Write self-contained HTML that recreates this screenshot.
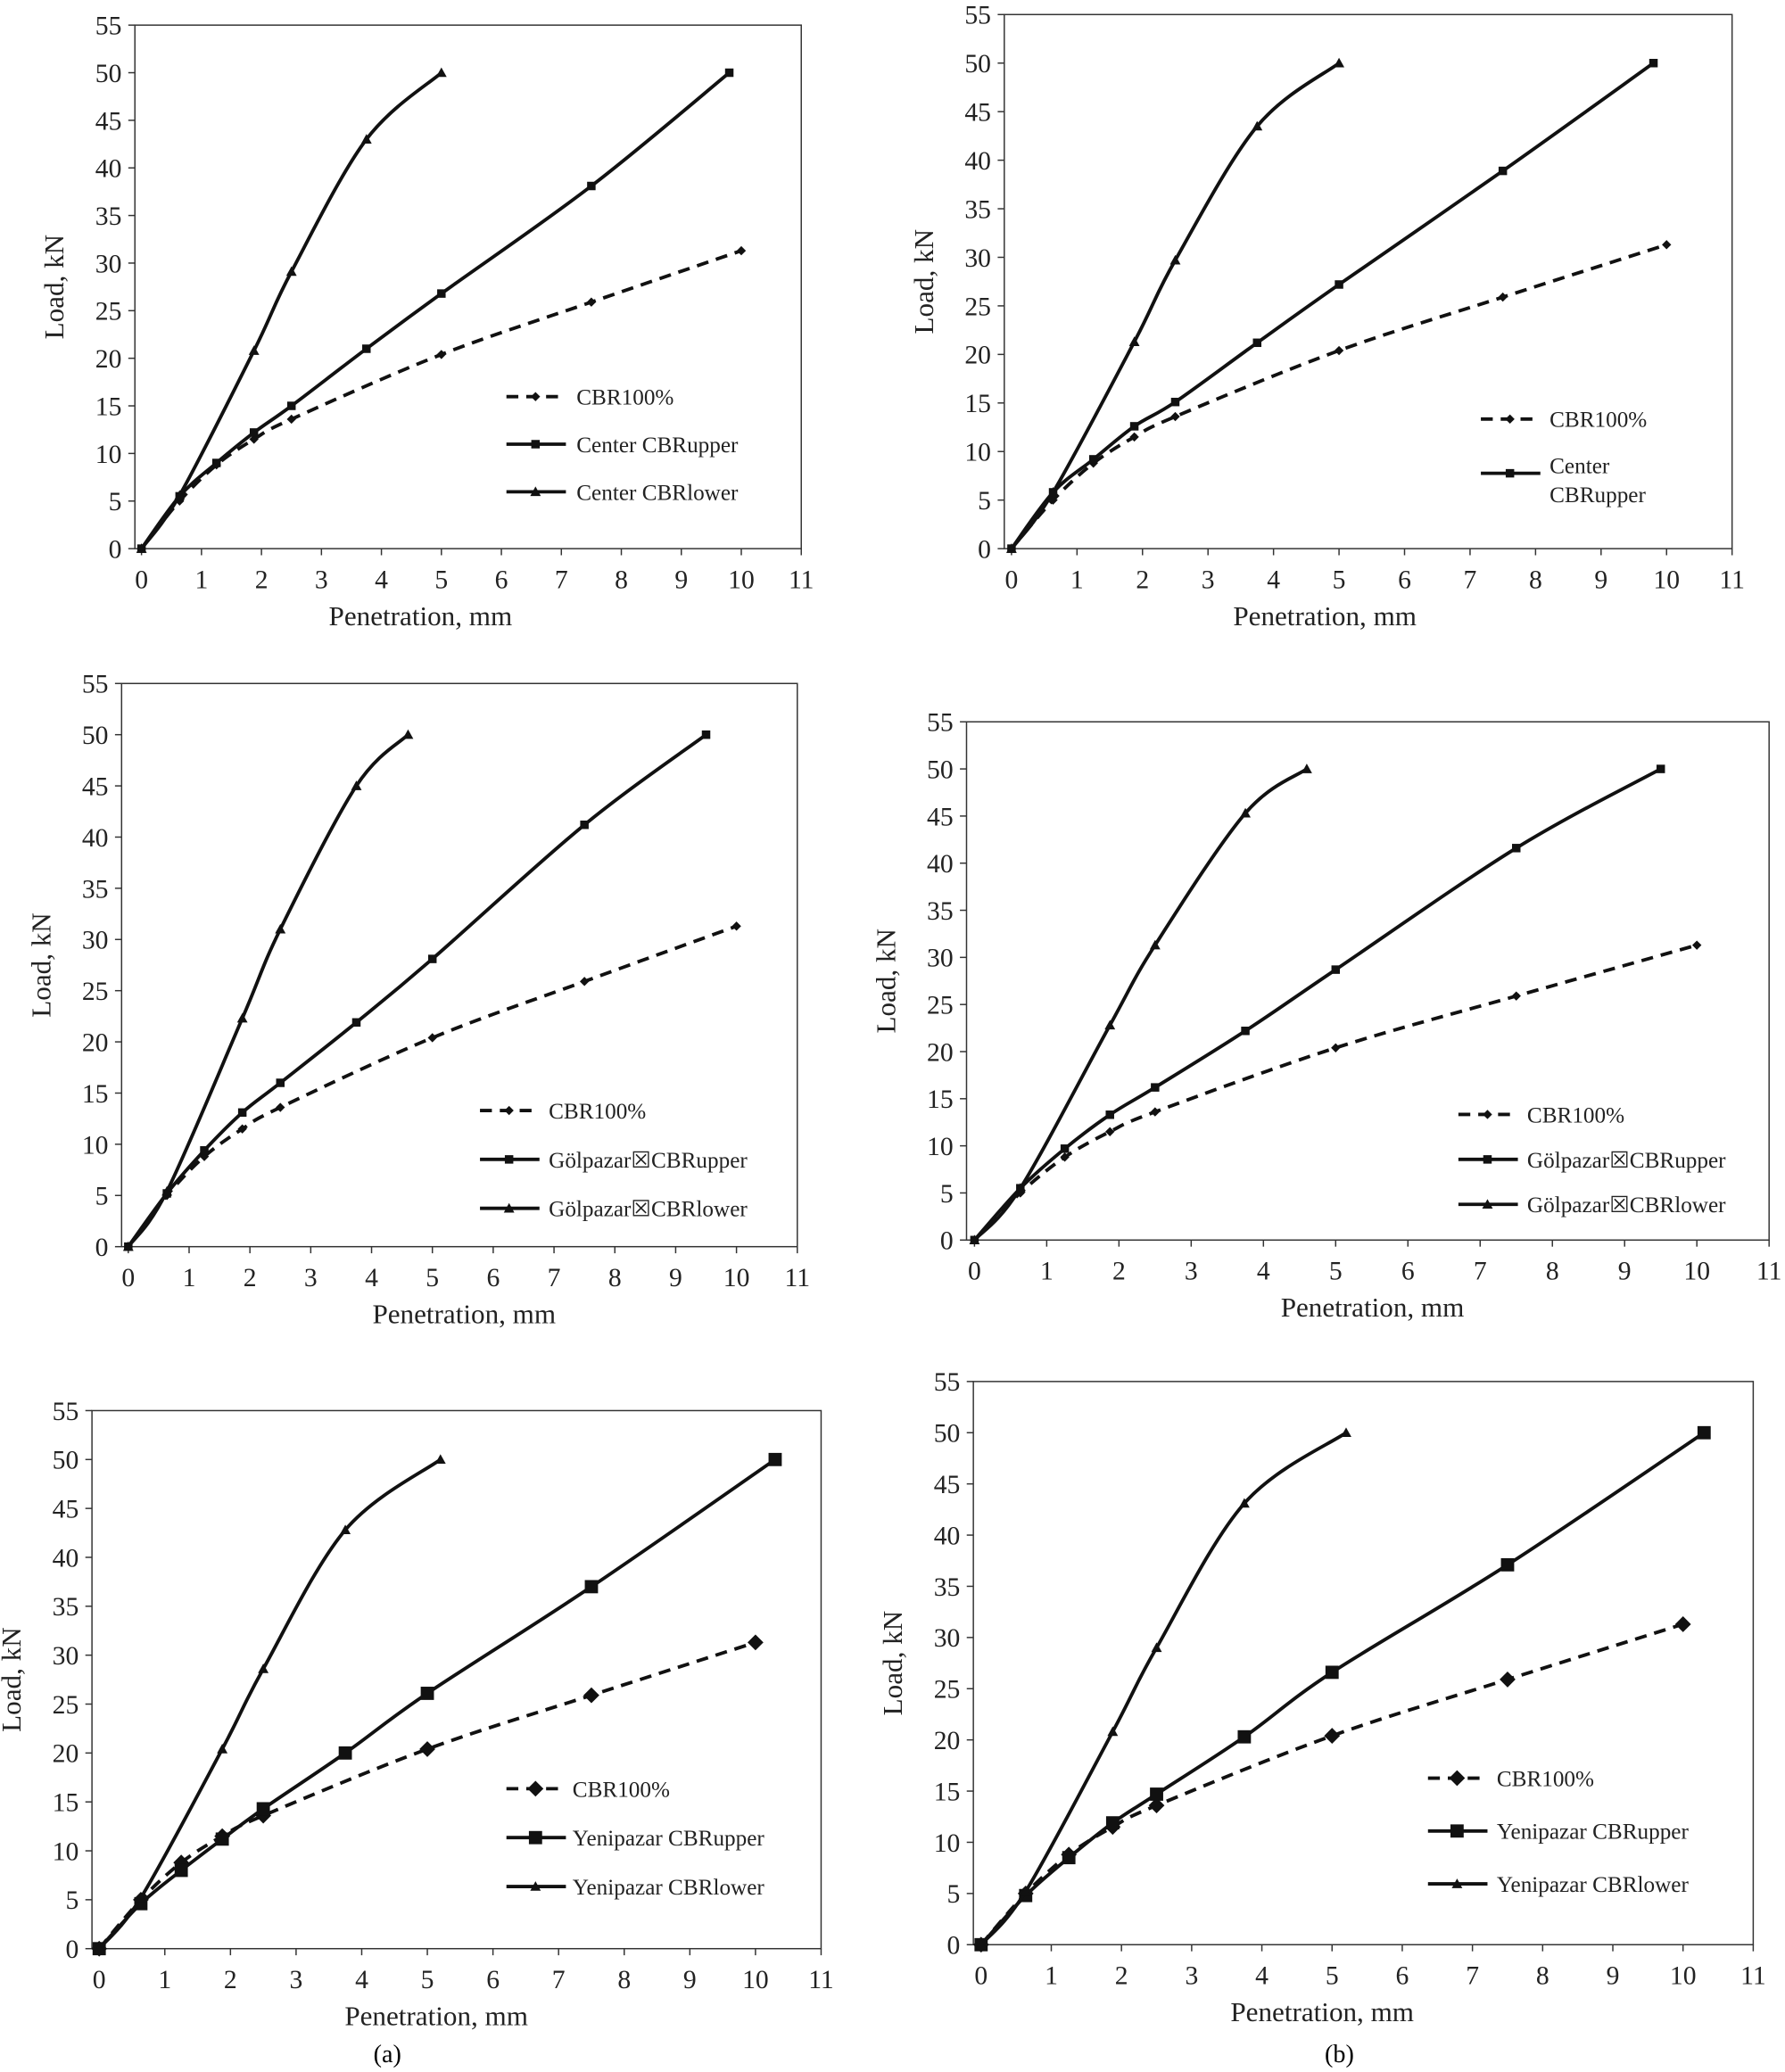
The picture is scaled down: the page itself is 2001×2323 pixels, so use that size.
<!DOCTYPE html>
<html><head><meta charset="utf-8"><style>
html,body{margin:0;padding:0;background:#fff;}
svg{display:block;font-family:"Liberation Serif",serif;}
</style></head><body>
<svg id="fig" width="2001" height="2323" viewBox="0 0 1350 1567.3" xmlns="http://www.w3.org/2000/svg">
<text x="293" y="1560" font-size="19" text-anchor="middle">(a)</text>
<text x="1013" y="1560" font-size="19" text-anchor="middle">(b)</text>
</svg>
<script>
const NS="http://www.w3.org/2000/svg";
const svg=document.getElementById('fig');
// Shared data
const cbrX=[0,0.635,1.25,1.875,2.5,5,7.5,10];
const cbrY=[0,5,8.8,11.5,13.6,20.4,25.9,31.3];
// Chart 1
const c1UpX=[0,0.635,1.25,1.875,2.5,3.75,5,7.5,9.8];
const c1UpY=[0,5.5,9,12.2,15,21,26.8,38.1,50];
const c1LoX=[0,0.635,1.875,2.5,3.75,5];
const c1LoY=[0,5.6,20.8,29.1,43,50];
// Chart 2
const c2UpX=[0,0.635,1.25,1.875,2.5,3.75,5,7.5,9.8];
const c2UpY=[0,5.8,9.2,12.6,15.1,21.2,27.2,38.9,50];
const c2LoX=[0,0.635,1.875,2.5,3.75,5];
const c2LoY=[0,5.8,21.3,29.7,43.5,50];
// Chart 3
const c3UpX=[0,0.635,1.25,1.875,2.5,3.75,5,7.5,9.5];
const c3UpY=[0,5.2,9.4,13.1,16,21.9,28.1,41.2,50];
const c3LoX=[0,0.635,1.875,2.5,3.75,4.6];
const c3LoY=[0,5.4,22.3,31,45,50];
// Chart 4
const c4UpX=[0,0.635,1.25,1.875,2.5,3.75,5,7.5,9.5];
const c4UpY=[0,5.5,9.7,13.3,16.2,22.2,28.7,41.6,50];
const c4LoX=[0,0.635,1.875,2.5,3.75,4.6];
const c4LoY=[0,5.5,22.8,31.3,45.3,50];
// Chart 5
const c5UpX=[0,0.635,1.25,1.875,2.5,3.75,5,7.5,10.3];
const c5UpY=[0,4.6,8,11.2,14.3,20,26.1,37,50];
const c5LoX=[0,0.635,1.875,2.5,3.75,5.2];
const c5LoY=[0,5.2,20.4,28.6,42.8,50];
// Chart 6
const c6UpX=[0,0.635,1.25,1.875,2.5,3.75,5,7.5,10.3];
const c6UpY=[0,4.8,8.5,11.9,14.7,20.3,26.6,37.1,50];
const c6LoX=[0,0.635,1.875,2.5,3.75,5.2];
const c6LoY=[0,5.2,20.8,29,43.1,50];
const xTicks=[0,1,2,3,4,5,6,7,8,9,10,11];
const yTicks=[0,5,10,15,20,25,30,35,40,45,50,55];

const charts=[
 {id:'a1',x0:107,x11:606,y0:415,y55:19,tc:318,up:[c1UpX,c1UpY],lo:[c1LoX,c1LoY],big:false,
  leg:{lx:383,tx:436,ys:[300,336,372]},names:['CBR100%','Center CBRupper','Center CBRlower']},
 {id:'b1',x0:765,x11:1310,y0:415,y55:11,tc:1002,up:[c2UpX,c2UpY],lo:[c2LoX,c2LoY],big:false,
  leg:{lx:1120,tx:1172,ys:[317,366]},names:['CBR100%',['Center','CBRupper']]},
 {id:'a2',x0:97,x11:603,y0:943,y55:517,tc:351,up:[c3UpX,c3UpY],lo:[c3LoX,c3LoY],big:false,
  leg:{lx:363,tx:415,ys:[840,877,914]},names:['CBR100%','Gölpazar☒CBRupper','Gölpazar☒CBRlower']},
 {id:'b2',x0:737,x11:1338,y0:938,y55:546,tc:1038,up:[c4UpX,c4UpY],lo:[c4LoX,c4LoY],big:false,
  leg:{lx:1103,tx:1155,ys:[843,877,911]},names:['CBR100%','Gölpazar☒CBRupper','Gölpazar☒CBRlower']},
 {id:'a3',x0:75,x11:621,y0:1474,y55:1067,tc:330,up:[c5UpX,c5UpY],lo:[c5LoX,c5LoY],big:true,
  leg:{lx:383,tx:433,ys:[1353,1390,1427]},names:['CBR100%','Yenipazar CBRupper','Yenipazar CBRlower']},
 {id:'b3',x0:742,x11:1326,y0:1471,y55:1045,tc:1000,up:[c6UpX,c6UpY],lo:[c6LoX,c6LoY],big:true,
  leg:{lx:1080,tx:1132,ys:[1345,1385,1425]},names:['CBR100%','Yenipazar CBRupper','Yenipazar CBRlower']}
];

function mk(tag,attrs,parent){const e=document.createElementNS(NS,tag);for(const k in attrs)e.setAttribute(k,attrs[k]);(parent||svg).appendChild(e);return e;}
function smooth(pts){
 let d='M'+pts[0][0]+','+pts[0][1];
 for(let i=0;i<pts.length-1;i++){
  const p0=pts[i-1]||pts[i],p1=pts[i],p2=pts[i+1],p3=pts[i+2]||p2;
  const t=6;
  const c1=[p1[0]+(p2[0]-p0[0])/t,p1[1]+(p2[1]-p0[1])/t];
  const c2=[p2[0]-(p3[0]-p1[0])/t,p2[1]-(p3[1]-p1[1])/t];
  d+=' C'+c1+' '+c2+' '+p2;
 }
 return d;
}
function marker(g,type,x,y,big){
 let e;
 if(type==='d'){const s=big?6:3.5;e=mk('path',{d:`M${x},${y-s}L${x+s},${y}L${x},${y+s}L${x-s},${y}Z`,fill:'#111'},g);}
 else if(type==='s'){const s=big?5:3.2;e=mk('rect',{x:x-s,y:y-s,width:2*s,height:2*s,fill:'#111'},g);}
 else {const s=4;e=mk('path',{d:`M${x},${y-s}L${x+s},${y+s*0.8}L${x-s},${y+s*0.8}Z`,fill:'#111'},g);}
 
 
}
charts.forEach(c=>{
 const ux=(c.x11-c.x0)/11, uy=(c.y0-c.y55)/55;
 const X=v=>c.x0+v*ux, Y=v=>c.y0-v*uy;
 const g=mk('g',{});
 
 
 const left=c.x0-0.11*ux;
 const box=mk('rect',{x:left,y:c.y55,width:c.x11-left,height:c.y0-c.y55,fill:'none',stroke:'#333','stroke-width':1},g);
 
 
 xTicks.forEach(t=>{
  mk('line',{x1:X(t),x2:X(t),y1:c.y0,y2:c.y0+5,stroke:'#333'},g);
  const tx=mk('text',{x:X(t),y:c.y0+30,'font-size':20,'text-anchor':'middle',fill:'#222'},g);
  tx.textContent=t;
  
  
 });
 yTicks.forEach(t=>{
  mk('line',{x1:left-5,x2:left,y1:Y(t),y2:Y(t),stroke:'#333'},g);
  const tx=mk('text',{x:left-10,y:Y(t)+7,'font-size':20,'text-anchor':'end',fill:'#222'},g);
  tx.textContent=t;
  
  
 });
 const xt=mk('text',{x:c.tc,y:c.y0+58,'font-size':21,'text-anchor':'middle',fill:'#222'},g);
 xt.textContent='Penetration, mm';
 
 
 const yx=left-54, yy=(c.y0+c.y55)/2;
 const yt=mk('text',{x:yx,y:yy,'font-size':21,'text-anchor':'middle',fill:'#222',transform:`rotate(-90 ${yx} ${yy})`},g);
 yt.textContent='Load, kN';
 
 
 const series=[
  {xs:cbrX,ys:cbrY,dash:'9,6',m:'d',name:'cbr100-line'},
  {xs:c.up[0],ys:c.up[1],dash:null,m:'s',name:'cbrupper-line'},
  {xs:c.lo[0],ys:c.lo[1],dash:null,m:'t',name:'cbrlower-line'}];
 series.forEach(s=>{
  const pts=s.xs.map((v,i)=>[X(v),Y(s.ys[i])]);
  const p=mk('path',{d:smooth(pts),fill:'none',stroke:'#111','stroke-width':2.6},g);
  if(s.dash)p.setAttribute('stroke-dasharray',s.dash);
  
  
  pts.forEach(q=>marker(g,s.m,q[0],q[1],c.big));
 });
 const types=[['d','9,6'],['s',null],['t',null]];
 c.names.forEach((n,i)=>{
  const y=c.leg.ys[i];
  const lg=mk('g',{},g);
  
  
  const ly=Array.isArray(n)?y-8:y;
  const l=mk('line',{x1:c.leg.lx,x2:c.leg.lx+45,y1:ly,y2:ly,stroke:'#111','stroke-width':2.6},lg);
  if(types[i][1])l.setAttribute('stroke-dasharray',types[i][1]);
  marker(lg,types[i][0],c.leg.lx+22,ly,c.big);
  if(Array.isArray(n)){
   n.forEach((part,j)=>{const t=mk('text',{x:c.leg.tx,y:y-8+j*22,'font-size':17,fill:'#222'},lg);t.textContent=part;});
  } else {
   const t=mk('text',{x:c.leg.tx,y:y+6,'font-size':17,fill:'#222'},lg);t.textContent=n;
  }
 });
});
</script>
</body></html>
